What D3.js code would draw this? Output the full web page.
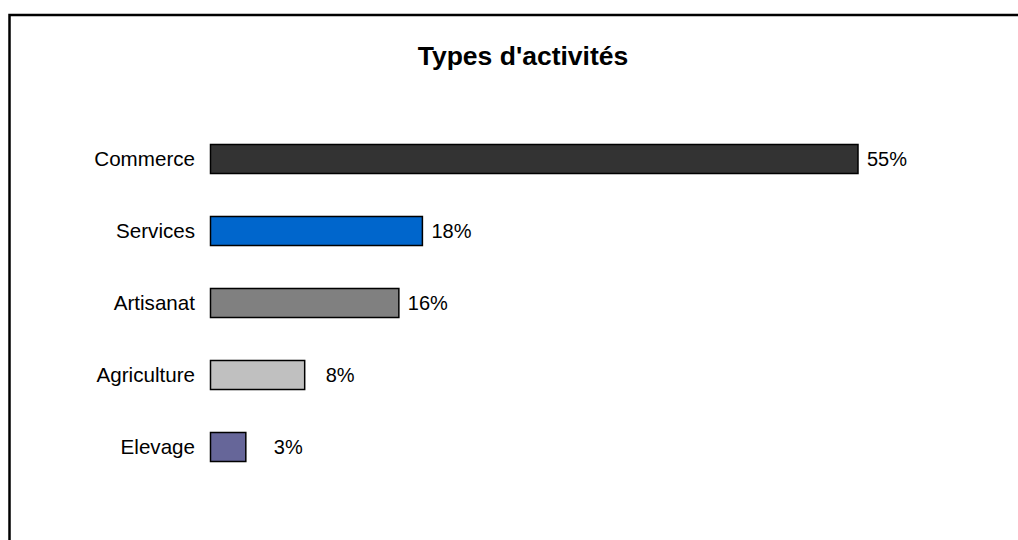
<!DOCTYPE html>
<html>
<head>
<meta charset="utf-8">
<script src="https://cdn.jsdelivr.net/npm/d3@7"></script>
<style>
  body { margin: 0; background: #fff; }
  svg text { font-family: "Liberation Sans", Arial, sans-serif; fill: #000; }
</style>
</head>
<body>
<div class="chart"></div>
<script>
const categories = ['Commerce', 'Services', 'Artisanat', 'Agriculture', 'Elevage']
const values = [55, 18, 16, 8, 3]
const labels = ['55%', '18%', '16%', '8%', '3%']
const colors = ['#333333', '#0066cc', '#808080', '#c0c0c0', '#666699']

drawChart('.chart')

//helpers

function drawChart(sel) {
  const width = 1018
  const height = 540

  const svg = d3.select(sel)
    .append('svg')
    .attr('width', width)
    .attr('height', height)

  // frame runs off the right and bottom edges in the original
  svg.append('rect')
    .attr('x', 9.5)
    .attr('y', 15)
    .attr('width', 1030)
    .attr('height', 560)
    .attr('fill', 'none')
    .attr('stroke', '#000')
    .attr('stroke-width', 2.5)

  svg.append('text')
    .attr('x', 523)
    .attr('y', 65)
    .attr('text-anchor', 'middle')
    .style('font-size', '26.5px')
    .style('font-weight', 'bold')
    .text("Types d'activités")

  const x = d3.scaleLinear().domain([0, 55]).range([210.5, 858])
  const y = d3.scaleBand()
    .domain(categories)
    .range([123, 483])
    .paddingInner(0.597)
    .paddingOuter(0.2985)

  const row = svg.selectAll('g.row')
    .data(categories)
    .enter()
    .append('g')
    .attr('class', 'row')
    .attr('transform', (d) => `translate(0,${y(d)})`)

  row.append('rect')
    .attr('x', x(0))
    .attr('width', (d, i) => x(values[i]) - x(0))
    .attr('height', y.bandwidth())
    .attr('fill', (d, i) => colors[i])
    .attr('stroke', '#000')
    .attr('stroke-width', 1.5)

  row.append('text')
    .attr('x', 195)
    .attr('y', y.bandwidth() / 2)
    .attr('dy', '0.33em')
    .attr('text-anchor', 'end')
    .style('font-size', '20.6px')
    .text((d) => d)

  // the short bars get their labels pushed further out
  const nudge = { Agriculture: 12, Elevage: 19 }
  row.append('text')
    .attr('x', (d, i) => x(values[i]) + 9 + (nudge[d] || 0))
    .attr('y', y.bandwidth() / 2)
    .attr('dy', '0.33em')
    .style('font-size', '20px')
    .text((d, i) => labels[i])
}
</script>
</body>
</html>
